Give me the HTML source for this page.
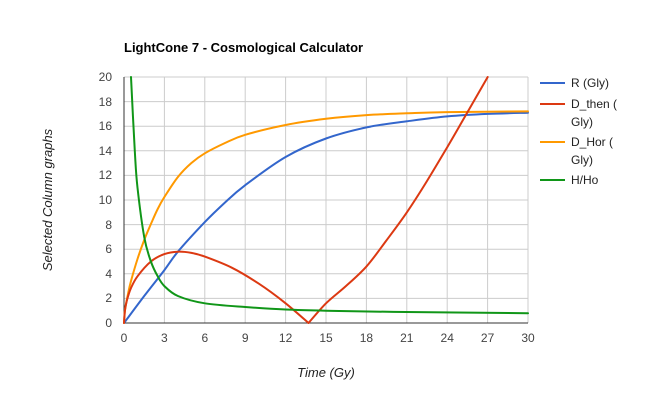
<!DOCTYPE html>
<html><head><style>body{margin:0;background:#fff}svg{display:block}</style></head><body>
<svg id="s" width="650" height="400" xmlns="http://www.w3.org/2000/svg" font-family="Liberation Sans, Arial, sans-serif">
<rect width="650" height="400" fill="#fff"/>
<text x="124" y="52" font-size="13" font-weight="bold" fill="#000">LightCone 7 - Cosmological Calculator</text>
<g stroke="#ccc" stroke-width="1">
<line x1="124" y1="77" x2="528" y2="77"/><line x1="124" y1="101.6" x2="528" y2="101.6"/><line x1="124" y1="126.2" x2="528" y2="126.2"/><line x1="124" y1="150.8" x2="528" y2="150.8"/><line x1="124" y1="175.4" x2="528" y2="175.4"/><line x1="124" y1="200" x2="528" y2="200"/><line x1="124" y1="224.6" x2="528" y2="224.6"/><line x1="124" y1="249.2" x2="528" y2="249.2"/><line x1="124" y1="273.8" x2="528" y2="273.8"/><line x1="124" y1="298.4" x2="528" y2="298.4"/>
<line x1="164.4" y1="77" x2="164.4" y2="323"/><line x1="204.8" y1="77" x2="204.8" y2="323"/><line x1="245.2" y1="77" x2="245.2" y2="323"/><line x1="285.6" y1="77" x2="285.6" y2="323"/><line x1="326" y1="77" x2="326" y2="323"/><line x1="366.4" y1="77" x2="366.4" y2="323"/><line x1="406.8" y1="77" x2="406.8" y2="323"/><line x1="447.2" y1="77" x2="447.2" y2="323"/><line x1="487.6" y1="77" x2="487.6" y2="323"/><line x1="528" y1="77" x2="528" y2="323"/>
</g>
<line x1="124" y1="77" x2="124" y2="323" stroke="#333"/>
<line x1="124" y1="323" x2="528" y2="323" stroke="#333"/>
<g font-size="12" fill="#444" text-anchor="end">
<text x="112" y="81">20</text><text x="112" y="106">18</text><text x="112" y="130">16</text><text x="112" y="155">14</text><text x="112" y="179">12</text><text x="112" y="204">10</text><text x="112" y="229">8</text><text x="112" y="253">6</text><text x="112" y="278">4</text><text x="112" y="302">2</text><text x="112" y="327">0</text>
</g>
<g font-size="12" fill="#444" text-anchor="middle">
<text x="124" y="342">0</text><text x="164.4" y="342">3</text><text x="204.8" y="342">6</text><text x="245.2" y="342">9</text><text x="285.6" y="342">12</text><text x="326" y="342">15</text><text x="366.4" y="342">18</text><text x="406.8" y="342">21</text><text x="447.2" y="342">24</text><text x="487.6" y="342">27</text><text x="528" y="342">30</text>
</g>
<text x="326" y="377" font-size="13" font-style="italic" fill="#222" text-anchor="middle">Time (Gy)</text>
<text transform="translate(52,200) rotate(-90)" font-size="13" font-style="italic" fill="#222" text-anchor="middle">Selected Column graphs</text>
<g id="curves" fill="none" stroke-width="2" stroke-linejoin="round" stroke-linecap="round">
<polyline stroke="#3366cc" points="124,323 144.2,296 164.4,270.1 177.9,251.7 204.8,222.1 225,202.5 245.2,185.2 285.6,157 326,138.5 366.5,127.4 406.9,121.3 447.3,116.4 487.7,113.9 528,112.7"/>
<polyline stroke="#ff9900" points="124,323 125,310 128,294 131,281 137.5,259 144.2,240 150.9,224 157.7,209 164.4,197 177.9,177 191.4,163 204.8,153.3 225,143 245.2,134.8 285.6,125 326,118.8 366.5,115.1 406.9,113.3 447.3,112.1 528,111.4"/>
<polyline stroke="#dc3912" points="124,323 125,310 127,300 131,288 137.5,276.3 150.9,261.5 164.4,254.1 177.9,251.7 191.4,252.9 204.8,256.6 231.8,267.7 258.7,283.6 285.6,303.3 308.5,323"/>
<polyline stroke="#dc3912" points="308.5,323 326,303.3 346,286 366.5,266.4 386,241 406.9,212.3 427,181 447.3,147.1 467,113 487.7,77"/>
<polyline stroke="#109618" points="131,77 134.8,151 137.5,187.7 144.2,236.9 150.9,261.5 157.7,276.3 164.4,286.1 177.9,296 204.8,303.3 245.2,307 285.6,309.5 326,310.7 393.4,311.9 528,313.2"/>
</g>
<g stroke-width="2">
<line x1="540" y1="83" x2="565" y2="83" stroke="#3366cc"/>
<line x1="540" y1="104" x2="565" y2="104" stroke="#dc3912"/>
<line x1="540" y1="142" x2="565" y2="142" stroke="#ff9900"/>
<line x1="540" y1="180" x2="565" y2="180" stroke="#109618"/>
</g>
<g font-size="12" fill="#222">
<text x="571" y="87">R (Gly)</text>
<text x="571" y="108">D_then (</text><text x="571" y="126">Gly)</text>
<text x="571" y="146">D_Hor (</text><text x="571" y="164">Gly)</text>
<text x="571" y="184">H/Ho</text>
</g>
</svg>
<script>
(function(){
var ns="http://www.w3.org/2000/svg";
var pls=document.querySelectorAll('#curves polyline');
for(var k=0;k<pls.length;k++){
 var pl=pls[k];
 var p=pl.getAttribute('points').trim().split(/\s+/).map(function(s){return s.split(',').map(Number);});
 var d='M'+p[0][0]+','+p[0][1];
 for(var i=0;i<p.length-1;i++){
  var p0=p[i-1]||p[i],p1=p[i],p2=p[i+1],p3=p[i+2]||p2;
  var t=6;
  var c1=[p1[0]+(p2[0]-p0[0])/t,p1[1]+(p2[1]-p0[1])/t];
  var c2=[p2[0]-(p3[0]-p1[0])/t,p2[1]-(p3[1]-p1[1])/t];
  d+=' C'+c1[0].toFixed(1)+','+c1[1].toFixed(1)+' '+c2[0].toFixed(1)+','+c2[1].toFixed(1)+' '+p2[0]+','+p2[1];
 }
 var path=document.createElementNS(ns,'path');
 path.setAttribute('d',d);path.setAttribute('stroke',pl.getAttribute('stroke'));
 pl.parentNode.replaceChild(path,pl);
}
})();
</script>
</body></html>
